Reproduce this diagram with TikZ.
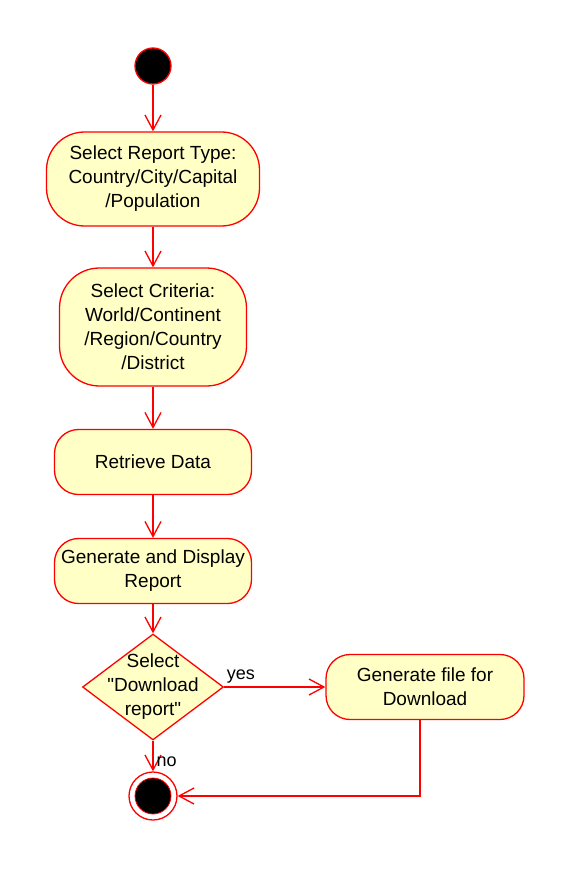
\documentclass[tikz,border=0pt]{standalone}
\usepackage{fontspec}
\setmainfont{Liberation Sans}
\usetikzlibrary{shapes.geometric,arrows.meta}
\definecolor{actfill}{HTML}{FFFFC6}
\tikzset{
    act/.style={draw=red,fill=actfill,line width=1.3pt,align=center,
        font=\fontsize{19}{24}\selectfont,inner sep=0pt},
    flow/.style={draw=red,line width=1.3pt,-{Straight Barb[length=15pt,width=16pt]}},
    lbl/.style={font=\fontsize{18}{22}\selectfont,inner sep=0pt}
}
\begin{document}
\begin{tikzpicture}[x=1pt,y=-1pt]
    \useasboundingbox (0,0) rectangle (564,869);
    % start and end
    \node[circle,draw=red,fill=black,line width=1.3pt,minimum size=36pt,inner sep=0pt](start) at (153,66){};
    \node[circle,draw=red,fill=white,line width=1.3pt,minimum size=48pt,inner sep=0pt](stop) at (153,796){};
    \node[circle,draw=red,fill=black,line width=.8pt,minimum size=36pt,inner sep=0pt](stopdot) at (stop){};
    % activities
    \node[act,rounded corners=38pt,minimum width=213pt,minimum height=94pt](rtype) at (153,179)
        {Select Report Type:\\Country/City/Capital\\/Population};
    \node[act,rounded corners=40pt,minimum width=187pt,minimum height=118pt](crit) at (153,327)
        {Select Criteria:\\World/Continent\\/Region/Country\\/District};
    \node[act,rounded corners=24pt,minimum width=197pt,minimum height=65pt](fetch) at (153,462)
        {Retrieve Data};
    \node[act,rounded corners=24pt,minimum width=197pt,minimum height=65pt](show) at (153,571)
        {Generate and Display\\Report};
    \node[act,diamond,minimum width=141pt,minimum height=106pt,
        label={[align=center,font=\fontsize{19}{24}\selectfont]center:Select\\\textquotedbl Download\\report\textquotedbl}](ask) at (153,687){};
    \node[act,rounded corners=24pt,minimum width=198pt,minimum height=65pt](file) at (425,687)
        {Generate file for\\Download};
    % flows
    \draw[flow](start)--(rtype);
    \draw[flow](rtype)--(crit);
    \draw[flow](crit)--(fetch);
    \draw[flow](fetch)--(show);
    \draw[flow](show)--(ask);
    \draw[flow](ask)--(file)node[lbl,pos=0,above right,xshift=2pt,yshift=3pt]{yes};
    \draw[flow](ask)--(stop)node[lbl,midway,right,xshift=3pt,yshift=-6pt]{no};
    \draw[flow]([xshift=-5pt]file.south)|-(stop);
\end{tikzpicture}
\end{document}
